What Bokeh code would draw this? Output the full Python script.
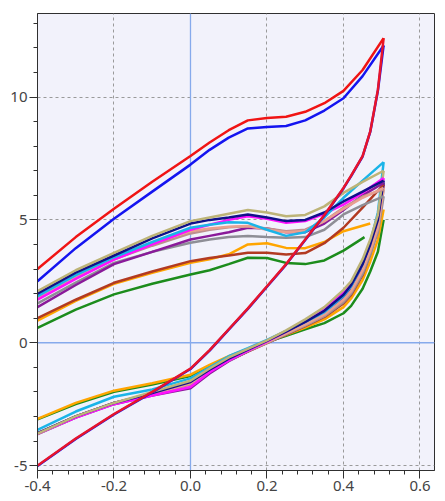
from bokeh.plotting import figure
from bokeh.models import Range1d, FixedTicker, Span
from bokeh.embed import file_html
from bokeh.resources import INLINE

# Sweep potentials (V)
x_fwd = [-0.4, -0.3, -0.2, -0.1, 0.0, 0.05, 0.1, 0.15, 0.2, 0.25, 0.3, 0.35, 0.4, 0.45, 0.505]
x_rev = [0.505, 0.49, 0.47, 0.45, 0.42, 0.4, 0.35, 0.3, 0.25, 0.2, 0.15, 0.1, 0.05, 0.0, -0.1, -0.2, -0.3, -0.4]

# Big loops
red_fwd = [3.0, 4.3, 5.45, 6.55, 7.6, 8.15, 8.65, 9.05, 9.15, 9.2, 9.4, 9.75, 10.25, 11.1, 12.4]
blue_fwd = [2.5, 3.85, 5.05, 6.15, 7.25, 7.85, 8.35, 8.72, 8.78, 8.82, 9.05, 9.45, 9.95, 10.85, 12.1]
red_rev = [12.4, 10.3, 8.6, 7.6, 6.8, 6.3, 5.2, 4.2, 3.2, 2.3, 1.4, 0.55, -0.3, -1.05, -2.0, -2.9, -3.9, -5.0]
blue_rev = [12.1, 10.25, 8.58, 7.58, 6.78, 6.28, 5.18, 4.18, 3.18, 2.28, 1.38, 0.53, -0.32, -1.07, -2.02, -2.92, -3.92, -5.02]

# Small loops: forward branches
tan_fwd = [2.1, 2.95, 3.66, 4.35, 4.95, 5.1, 5.25, 5.4, 5.3, 5.15, 5.2, 5.55, 6.1, 6.55, 7.0]
navy_fwd = [2.0, 2.85, 3.55, 4.25, 4.85, 5.0, 5.1, 5.22, 5.1, 4.95, 5.0, 5.3, 5.75, 6.15, 6.6]
cyan_fwd = [1.9, 2.75, 3.48, 4.1, 4.68, 4.8, 4.9, 4.88, 4.6, 4.35, 4.5, 5.1, 5.9, 6.6, 7.35]
magenta_fwd = [1.75, 2.6, 3.38, 4.0, 4.6, 4.8, 5.0, 5.15, 5.05, 4.88, 4.95, 5.25, 5.62, 6.1, 6.7]
salmon_fwd = [1.85, 2.7, 3.45, 4.05, 4.54, 4.65, 4.72, 4.75, 4.6, 4.5, 4.55, 4.95, 5.45, 5.9, 6.3]
rosy_fwd = [1.8, 2.65, 3.4, 3.95, 4.45, 4.6, 4.7, 4.74, 4.65, 4.54, 4.6, 4.95, 5.49, 5.95, 6.23]
purple_fwd = [1.45, 2.35, 3.2, 3.7, 4.2, 4.35, 4.5, 4.68, 4.65, 4.5, 4.5, 4.85, 5.4, 6.0, 6.5]
gray_fwd = [1.6, 2.45, 3.25, 3.7, 4.07, 4.2, 4.3, 4.34, 4.3, 4.27, 4.3, 4.6, 5.22, 5.6, 5.96]
sienna_fwd = [1.0, 1.75, 2.44, 2.9, 3.32, 3.45, 3.55, 3.66, 3.66, 3.59, 3.65, 4.05, 4.68, 5.5, 6.44]
orange_x = [-0.4, -0.3, -0.2, -0.1, 0.0, 0.05, 0.1, 0.15, 0.2, 0.25, 0.3, 0.35, 0.4, 0.47]
orange_fwd = [0.9, 1.7, 2.4, 2.85, 3.25, 3.4, 3.6, 4.0, 4.05, 3.86, 3.85, 4.1, 4.54, 4.85]
green_x = [-0.4, -0.3, -0.2, -0.1, 0.0, 0.05, 0.1, 0.15, 0.2, 0.25, 0.3, 0.35, 0.4, 0.455]
green_fwd = [0.6, 1.35, 1.97, 2.4, 2.78, 2.95, 3.2, 3.46, 3.45, 3.25, 3.2, 3.35, 3.75, 4.3]

# Small loops: reverse branches
tan_rev = [7.0, 5.2, 4.2, 3.4, 2.5, 2.15, 1.45, 0.95, 0.5, 0.1, -0.25, -0.6, -1.05, -1.55, -2.0, -2.45, -3.0, -3.7]
navy_rev = [6.6, 5.0, 4.0, 3.2, 2.35, 1.95, 1.3, 0.85, 0.45, 0.08, -0.28, -0.65, -1.1, -1.6, -2.05, -2.45, -3.0, -3.68]
cyan_rev = [7.35, 5.3, 4.1, 3.2, 2.3, 1.9, 1.25, 0.85, 0.48, 0.12, -0.22, -0.55, -1.0, -1.45, -1.9, -2.2, -2.8, -3.55]
magenta_rev = [6.7, 5.1, 4.1, 3.3, 2.45, 2.05, 1.38, 0.9, 0.45, 0.05, -0.32, -0.72, -1.2, -1.8, -2.15, -2.5, -3.05, -3.7]
salmon_rev = [6.3, 4.7, 3.75, 2.95, 2.1, 1.75, 1.15, 0.75, 0.38, 0.02, -0.32, -0.7, -1.15, -1.65, -2.1, -2.45, -3.0, -3.68]
rosy_rev = [6.23, 4.6, 3.7, 2.9, 2.05, 1.7, 1.1, 0.72, 0.36, 0.0, -0.34, -0.72, -1.15, -1.7, -2.1, -2.45, -3.02, -3.72]
purple_rev = [6.5, 4.9, 3.9, 3.05, 2.25, 1.85, 1.2, 0.8, 0.4, 0.02, -0.35, -0.75, -1.25, -1.85, -2.15, -2.5, -3.05, -3.72]
gray_rev = [5.96, 4.5, 3.6, 2.8, 2.0, 1.65, 1.08, 0.7, 0.35, 0.0, -0.34, -0.7, -1.15, -1.65, -2.08, -2.45, -3.0, -3.7]
sienna_rev = [6.44, 4.7, 3.6, 2.75, 1.95, 1.6, 1.05, 0.68, 0.33, -0.02, -0.36, -0.72, -1.15, -1.65, -2.1, -2.45, -3.0, -3.7]
orange_rev = [5.42, 4.2, 3.3, 2.55, 1.8, 1.45, 0.95, 0.62, 0.32, 0.05, -0.25, -0.55, -0.9, -1.3, -1.65, -1.95, -2.45, -3.1]
green_rev = [5.0, 3.7, 2.9, 2.2, 1.5, 1.2, 0.8, 0.55, 0.28, 0.03, -0.27, -0.58, -0.95, -1.35, -1.7, -2.0, -2.5, -3.12]

x_ticks = [-0.4, -0.2, 0.0, 0.2, 0.4, 0.6]
x_labels = ["-0.4", "-0.2", "0.0", "0.2", "0.4", "0.6"]
x_minor = [round(-0.4 + 0.04 * i, 2) for i in range(27)]
y_ticks = [-5, 0, 5, 10]
y_labels = ["-5", "0", "5", "10"]
y_minor = list(range(-5, 14))

p = figure(width=445, height=501, output_backend="svg", toolbar_location=None,
           x_range=Range1d(-0.4, 0.638), y_range=Range1d(-5.2, 13.4),
           min_border_left=37, min_border_right=11, min_border_top=13, min_border_bottom=31)
p.background_fill_color = "#f2f2fb"
p.border_fill_color = "white"
p.outline_line_color = "#303030"
p.outline_line_width = 1

for ax, ticks, minor, labels in ((p.xaxis[0], x_ticks, x_minor, x_labels),
                                 (p.yaxis[0], y_ticks, y_minor, y_labels)):
    ax.ticker = FixedTicker(ticks=ticks, minor_ticks=minor)
    ax.major_label_overrides = {t: l for t, l in zip(ticks, labels)}
    ax.major_label_text_font = "Noto Sans"
    ax.major_label_text_font_size = "15px"
    ax.major_label_text_color = "#444444"
    ax.major_tick_out = 8
    ax.major_tick_in = 0
    ax.minor_tick_out = 4
    ax.minor_tick_in = 0
    ax.major_label_standoff = 2
    ax.axis_line_color = "#303030"
    ax.major_tick_line_color = "#303030"
    ax.minor_tick_line_color = "#303030"

p.grid.grid_line_color = "#9a9a9a"
p.grid.grid_line_dash = "3 3"
p.grid.grid_line_width = 1

zero = 0
p.add_layout(Span(location=zero, dimension="height", line_color="#86aaec", line_width=1.3, level="underlay"))
p.add_layout(Span(location=zero, dimension="width", line_color="#86aaec", line_width=1.3, level="underlay"))

lw = 2.5
small = [
    ("#1c8c1c", green_x, green_fwd, green_rev),
    ("#ffa500", orange_x, orange_fwd, orange_rev),
    ("#b23a22", x_fwd, sienna_fwd, sienna_rev),
    ("#8e8e96", x_fwd, gray_fwd, gray_rev),
    ("#8a1a9a", x_fwd, purple_fwd, purple_rev),
    ("#bc8f8f", x_fwd, rosy_fwd, rosy_rev),
    ("#e9a090", x_fwd, salmon_fwd, salmon_rev),
    ("#ff10ff", x_fwd, magenta_fwd, magenta_rev),
    ("#1ab4e8", x_fwd, cyan_fwd, cyan_rev),
    ("#10108a", x_fwd, navy_fwd, navy_rev),
    ("#bdb478", x_fwd, tan_fwd, tan_rev),
]
for color, xf, yf, yr in small:
    p.line(x_rev, yr, line_color=color, line_width=lw)
for color, xf, yf, yr in small:
    p.line(xf, yf, line_color=color, line_width=lw)

p.line(x_rev, blue_rev, line_color="#1414f0", line_width=lw)
p.line(x_fwd, blue_fwd, line_color="#1414f0", line_width=lw)
p.line(x_rev, red_rev, line_color="#e8142a", line_width=lw)
p.line(x_fwd, red_fwd, line_color="#f01414", line_width=lw)

open("out.html", "w").write(file_html(p, INLINE))
